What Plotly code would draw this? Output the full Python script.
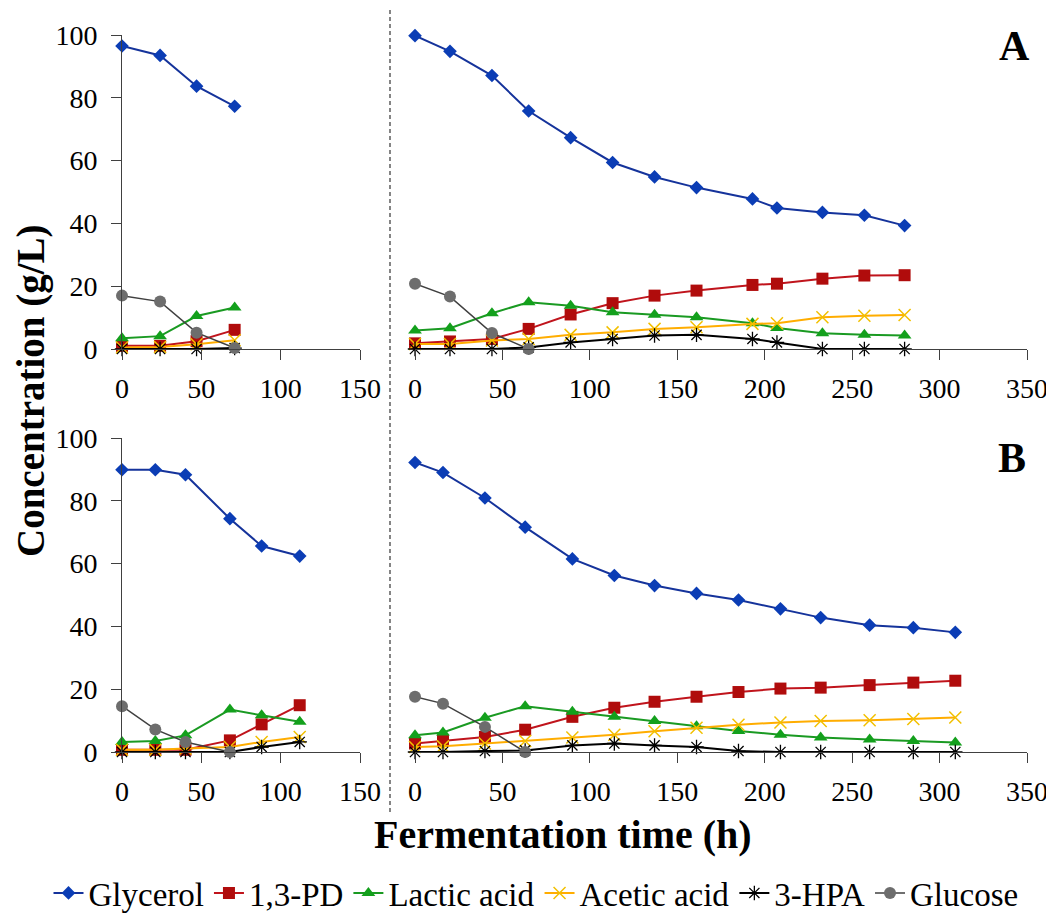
import plotly.graph_objects as go

# ---------------- data ----------------
series_names = ["Glycerol", "1,3-PD", "Lactic acid", "Acetic acid", "3-HPA", "Glucose"]

# Panel A, left (first fermentation)
a1_time = [0, 24, 47, 71]
a1_glycerol = [96.5, 93.5, 83.7, 77.3]
a1_pd = [1.0, 1.0, 2.5, 6.1]
a1_lactic = [3.4, 4.1, 10.5, 13.2]
a1_acetic = [0.5, 0.6, 1.5, 2.8]
a1_hpa = [0.0, 0.0, 0.0, 0.3]
a1_glucose = [17.0, 15.1, 5.2, 0.3]

# Panel A, right
a2_time = [0, 20, 44, 65, 89, 113, 137, 161, 193, 207, 233, 257, 280]
a2_glycerol = [99.8, 94.8, 87.1, 75.8, 67.3, 59.4, 54.8, 51.4, 47.8, 44.9, 43.5, 42.6, 39.3]
a2_pd = [1.8, 2.4, 3.2, 6.4, 11.0, 14.6, 17.0, 18.6, 20.4, 20.8, 22.4, 23.4, 23.5]
a2_lactic = [5.9, 6.6, 11.4, 14.9, 13.8, 11.7, 10.9, 10.1, 8.2, 6.7, 5.0, 4.5, 4.3]
a2_acetic = [1.6, 1.6, 2.7, 3.2, 4.5, 5.3, 6.4, 6.9, 8.0, 8.2, 10.1, 10.6, 10.8]
a2_hpa = [0.0, 0.0, 0.0, 0.5, 2.1, 3.2, 4.3, 4.5, 3.2, 2.1, 0.0, 0.0, 0.0]
a2_glucose_time = [0, 20, 44, 65]
a2_glucose = [20.8, 16.7, 5.1, 0.0]

# Panel B, left
b1_time = [0, 21, 40, 68, 88, 112]
b1_glycerol = [89.9, 89.9, 88.3, 74.3, 65.6, 62.4]
b1_pd = [0.7, 0.7, 0.7, 3.7, 8.8, 14.9]
b1_lactic = [3.2, 3.5, 5.3, 13.5, 11.7, 9.6]
b1_acetic = [0.7, 0.7, 1.1, 1.6, 3.2, 4.8]
b1_hpa = [0.0, 0.0, 0.0, 0.0, 1.6, 3.2]
b1_glucose_time = [0, 21, 40, 68]
b1_glucose = [14.6, 7.2, 3.2, 0.0]

# Panel B, right
b2_time = [0, 16, 40, 63, 90, 114, 137, 161, 185, 209, 232, 260, 285, 309]
b2_glycerol = [92.2, 89.0, 80.9, 71.6, 61.5, 56.2, 53.0, 50.5, 48.4, 45.6, 42.8, 40.4, 39.6, 38.1]
b2_pd = [2.7, 3.5, 4.8, 7.1, 11.2, 14.1, 16.0, 17.6, 19.1, 20.2, 20.5, 21.3, 22.1, 22.7]
b2_lactic = [5.3, 6.2, 10.9, 14.6, 12.8, 11.2, 9.9, 8.2, 6.7, 5.5, 4.6, 4.0, 3.5, 3.0]
b2_acetic = [1.6, 1.8, 2.7, 3.5, 4.6, 5.5, 6.6, 7.7, 8.7, 9.4, 9.9, 10.1, 10.5, 11.0]
b2_hpa = [0.0, 0.0, 0.3, 0.5, 2.1, 2.7, 2.1, 1.6, 0.3, 0.0, 0.0, 0.0, 0.0, 0.0]
b2_glucose_time = [0, 16, 40, 63]
b2_glucose = [17.6, 15.4, 8.0, 0.0]

x_left_ticks = [0, 50, 100, 150]
x_right_ticks = [0, 50, 100, 150, 200, 250, 300, 350]
y_ticks = [0, 20, 40, 60, 80, 100]

# ---------------- styles ----------------
FONT = "Liberation Serif"
styles = {
    "Glycerol": dict(line=dict(color="#15339b", width=2),
                     marker=dict(symbol="diamond", size=10.5, color="#0b3db5")),
    "1,3-PD": dict(line=dict(color="#c0141c", width=2),
                   marker=dict(symbol="square", size=12, color="#b00c0c")),
    "Lactic acid": dict(line=dict(color="#1a9a22", width=2),
                        marker=dict(symbol="triangle-up", size=12, color="#13a01c")),
    "Acetic acid": dict(line=dict(color="#ffad00", width=2),
                        marker=dict(symbol="x-thin-open", size=12, color="#f2c000",
                                    line=dict(color="#f2c000", width=1.5))),
    "3-HPA": dict(line=dict(color="#000000", width=2),
                  marker=dict(symbol="asterisk-open", size=12, color="#000000",
                              line=dict(color="#000000", width=1.3))),
    "Glucose": dict(line=dict(color="#404040", width=1.5),
                    marker=dict(symbol="circle", size=12, color="#6d6d6d")),
}

panels = [
    ("x", "y", [(a1_time, a1_glycerol), (a1_time, a1_pd), (a1_time, a1_lactic),
                (a1_time, a1_acetic), (a1_time, a1_hpa), (a1_time, a1_glucose)]),
    ("x2", "y2", [(a2_time, a2_glycerol), (a2_time, a2_pd), (a2_time, a2_lactic),
                  (a2_time, a2_acetic), (a2_time, a2_hpa), (a2_glucose_time, a2_glucose)]),
    ("x3", "y3", [(b1_time, b1_glycerol), (b1_time, b1_pd), (b1_time, b1_lactic),
                  (b1_time, b1_acetic), (b1_time, b1_hpa), (b1_glucose_time, b1_glucose)]),
    ("x4", "y4", [(b2_time, b2_glycerol), (b2_time, b2_pd), (b2_time, b2_lactic),
                  (b2_time, b2_acetic), (b2_time, b2_hpa), (b2_glucose_time, b2_glucose)]),
]

fig = go.Figure()
for pi, (xa, ya, data) in enumerate(panels):
    for name, (xs, ys) in zip(series_names, data):
        st = styles[name]
        fig.add_trace(go.Scatter(
            x=xs, y=ys, mode="lines+markers", name=name,
            xaxis=xa, yaxis=ya, legendgroup=name, showlegend=(pi == 0),
            line=st["line"], marker=st["marker"], cliponaxis=False,
        ))

# the page body has an 8px default margin at the top/left; the figure fills the rest
OFF = 8
W, H = 1054 - OFF, 917 - OFF


def px_x(p):
    return (p - OFF) / W


def px_y(p):
    return 1 - (p - OFF) / H


left_dom = [px_x(122), px_x(360)]
right_dom = [px_x(415), px_x(1027)]
top_dom = [px_y(349), px_y(35)]
bot_dom = [px_y(752), px_y(438)]

tickfont = dict(family=FONT, size=28, color="#000000")
axis_common = dict(showgrid=False, zeroline=False, showline=True, linecolor="#404040",
                   linewidth=1, ticks="outside", ticklen=10, tickcolor="#404040",
                   tickwidth=1, tickfont=tickfont)

def xax(dom, rng, ticks, anchor):
    return dict(domain=dom, range=rng, tickvals=ticks, anchor=anchor,
                ticklabelstandoff=4, ticklabeloverflow="allow", **axis_common)

def yax_left(dom, anchor):
    return dict(domain=dom, range=[0, 100], tickvals=y_ticks, anchor=anchor,
                ticklabelstandoff=8, **axis_common)

def yax_right(dom, anchor):
    return dict(domain=dom, range=[0, 100], anchor=anchor, visible=False,
                showgrid=False, zeroline=False)

fig.update_layout(
    width=W, height=H, margin=dict(l=0, r=0, t=0, b=0, autoexpand=False),
    paper_bgcolor="white", plot_bgcolor="rgba(0,0,0,0)",
    font=dict(family=FONT, color="#000000"),
    xaxis=xax(left_dom, [0, 150], x_left_ticks, "y"),
    yaxis=yax_left(top_dom, "x"),
    xaxis2=xax(right_dom, [0, 350], x_right_ticks, "y2"),
    yaxis2=yax_right(top_dom, "x2"),
    xaxis3=xax(left_dom, [0, 150], x_left_ticks, "y3"),
    yaxis3=yax_left(bot_dom, "x3"),
    xaxis4=xax(right_dom, [0, 350], x_right_ticks, "y4"),
    yaxis4=yax_right(bot_dom, "x4"),
    showlegend=True,
    legend=dict(orientation="h", x=px_x(536), xanchor="center", y=px_y(893), yanchor="middle",
                font=dict(family=FONT, size=33, color="#000000"),
                itemwidth=30, tracegroupgap=0, bgcolor="rgba(0,0,0,0)"),
)

fig.add_shape(type="line", xref="paper", yref="paper",
              x0=px_x(390), x1=px_x(390), y0=px_y(10), y1=px_y(815),
              line=dict(color="#444444", width=1.3, dash="4px,3px"))

fig.add_annotation(text="<b>Concentration (g/L)</b>", xref="paper", yref="paper",
                   x=px_x(31), y=px_y(391), textangle=-90, showarrow=False,
                   xanchor="center", yanchor="middle", borderpad=0,
                   font=dict(family=FONT, size=39, color="#000000"))
fig.add_annotation(text="<b>Fermentation time (h)</b>", xref="paper", yref="paper",
                   x=px_x(563), y=px_y(834), showarrow=False,
                   xanchor="center", yanchor="middle",
                   font=dict(family=FONT, size=40, color="#000000"))
fig.add_annotation(text="<b>A</b>", xref="paper", yref="paper",
                   x=px_x(1014), y=px_y(46), showarrow=False,
                   xanchor="center", yanchor="middle",
                   font=dict(family=FONT, size=42, color="#000000"))
fig.add_annotation(text="<b>B</b>", xref="paper", yref="paper",
                   x=px_x(1012), y=px_y(458), showarrow=False,
                   xanchor="center", yanchor="middle",
                   font=dict(family=FONT, size=42, color="#000000"))

fig.write_html("out.html")
